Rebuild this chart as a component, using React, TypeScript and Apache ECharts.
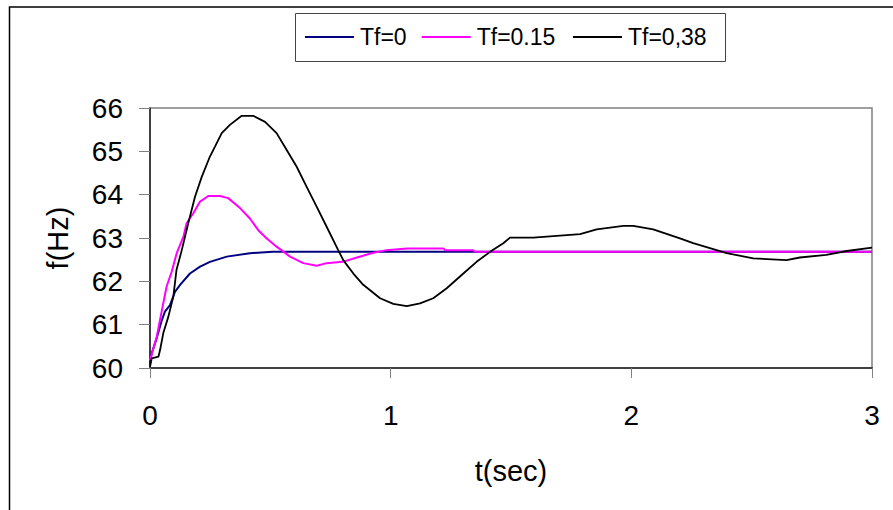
import React, { useEffect, useRef } from "react";
import * as echarts from "echarts";

const seriesNames = ["Tf=0", "Tf=0.15", "Tf=0,38"];
const seriesColors = ["#000080", "#FF00FF", "#000000"];

const tf0Time = [0, 0.007, 0.028, 0.049, 0.062, 0.083, 0.104, 0.125, 0.166, 0.208, 0.249, 0.319, 0.415, 0.51, 3];
const tf0Freq = [60.1, 60.34, 60.69, 61.1, 61.3, 61.45, 61.76, 61.92, 62.18, 62.34, 62.45, 62.57, 62.65, 62.68, 62.68];

const tf015Time = [0, 0.028, 0.055, 0.069, 0.09, 0.111, 0.139, 0.152, 0.18, 0.208, 0.242, 0.291, 0.325, 0.374, 0.415, 0.45, 0.485, 0.526, 0.582, 0.637, 0.693, 0.734, 0.8, 0.86, 0.928, 0.983, 1.067, 1.219, 1.226, 1.343, 1.35, 3];
const tf015Freq = [60.18, 60.72, 61.49, 61.88, 62.22, 62.65, 63.03, 63.34, 63.57, 63.84, 63.97, 63.97, 63.92, 63.69, 63.45, 63.18, 62.99, 62.8, 62.57, 62.42, 62.36, 62.42, 62.45, 62.55, 62.66, 62.72, 62.76, 62.76, 62.72, 62.72, 62.68, 62.68];

const tf038Time = [0, 0.007, 0.035, 0.042, 0.055, 0.076, 0.097, 0.11, 0.132, 0.159, 0.187, 0.215, 0.249, 0.27, 0.298, 0.332, 0.381, 0.429, 0.478, 0.526, 0.568, 0.609, 0.651, 0.693, 0.734, 0.782, 0.803, 0.845, 0.886, 0.956, 1.011, 1.067, 1.122, 1.177, 1.233, 1.302, 1.357, 1.413, 1.468, 1.496, 1.593, 1.69, 1.787, 1.856, 1.967, 2.008, 2.091, 2.202, 2.257, 2.396, 2.507, 2.645, 2.7, 2.81, 2.895, 3];
const tf038Freq = [60.03, 60.22, 60.26, 60.42, 60.8, 61.18, 61.65, 62.26, 62.72, 63.34, 63.95, 64.41, 64.88, 65.11, 65.42, 65.61, 65.82, 65.82, 65.68, 65.42, 65.03, 64.65, 64.18, 63.72, 63.26, 62.72, 62.49, 62.18, 61.92, 61.61, 61.48, 61.43, 61.49, 61.61, 61.84, 62.18, 62.45, 62.68, 62.88, 63.01, 63.01, 63.05, 63.09, 63.2, 63.28, 63.28, 63.2, 62.99, 62.88, 62.65, 62.53, 62.49, 62.55, 62.61, 62.7, 62.78];

const xTicks = { min: 0, max: 3, interval: 1 };
const yTicks = { min: 60, max: 66, interval: 1 };

const zip = (t: number[], f: number[]) => t.map((v, i) => [v, f[i]]);

const FONT = "'Liberation Sans', Arial, sans-serif";

export default function App() {
  const ref = useRef<HTMLDivElement>(null);
  useEffect(() => {
    if (!ref.current) return;
    const chart = echarts.init(ref.current, null, { renderer: "svg" });
    const datasets = [zip(tf0Time, tf0Freq), zip(tf015Time, tf015Freq), zip(tf038Time, tf038Freq)];
    const legendLefts = [305, 421.7, 573];
    chart.setOption({
      animation: false,
      backgroundColor: "#ffffff",
      textStyle: { fontFamily: FONT },
      graphic: [
        {
          type: "rect",
          shape: { x: 9.5, y: 7, width: 1000, height: 1000 },
          style: { fill: "none", stroke: "#000000", lineWidth: 1.5 },
          silent: true,
        },
        {
          type: "rect",
          shape: { x: 295.5, y: 13.5, width: 430, height: 48 },
          style: { fill: "none", stroke: "#444444", lineWidth: 1 },
          silent: true,
        },
      ],
      legend: seriesNames.map((name, i) => ({
        data: [name],
        left: legendLefts[i],
        top: 25.5,
        padding: 0,
        icon: "rect",
        itemWidth: 49,
        itemHeight: 2,
        itemGap: 0,
        textStyle: { fontFamily: FONT, fontSize: 23, color: "#000000", padding: [0, 0, 0, 1] },
      })),
      grid: {
        left: 150,
        top: 108,
        right: 21,
        bottom: 142,
        show: true,
        borderColor: "#808080",
        borderWidth: 1.5,
      },
      xAxis: {
        type: "value",
        min: xTicks.min,
        max: xTicks.max,
        interval: xTicks.interval,
        name: "t(sec)",
        nameLocation: "middle",
        nameGap: 88,
        nameTextStyle: { fontFamily: FONT, fontSize: 29, color: "#000000" },
        splitLine: { show: false },
        axisLine: { show: true, onZero: false, lineStyle: { color: "#404040", width: 2 } },
        axisTick: { show: true, length: 10, lineStyle: { color: "#808080", width: 1 } },
        axisLabel: { margin: 33, fontFamily: FONT, fontSize: 28, color: "#000000" },
      },
      yAxis: {
        type: "value",
        min: yTicks.min,
        max: yTicks.max,
        interval: yTicks.interval,
        name: "f(Hz)",
        nameLocation: "middle",
        nameGap: 78,
        nameTextStyle: { fontFamily: FONT, fontSize: 29, color: "#000000" },
        splitLine: { show: false },
        axisLine: { show: true, onZero: false, lineStyle: { color: "#202020", width: 1.5 } },
        axisTick: { show: true, length: 11, lineStyle: { color: "#808080", width: 1 } },
        axisLabel: { margin: 27, fontFamily: FONT, fontSize: 28, color: "#000000" },
      },
      series: seriesNames.map((name, i) => ({
        name,
        type: "line",
        data: datasets[i],
        symbol: "none",
        showSymbol: false,
        color: seriesColors[i],
        lineStyle: { color: seriesColors[i], width: i === 2 ? 1.8 : 2 },
        z: 2 + i,
      })),
    });
    return () => chart.dispose();
  }, []);
  return (
    <div
      ref={ref}
      style={{ position: "fixed", left: 0, top: 0, width: 893, height: 510, background: "#fff" }}
    />
  );
}
